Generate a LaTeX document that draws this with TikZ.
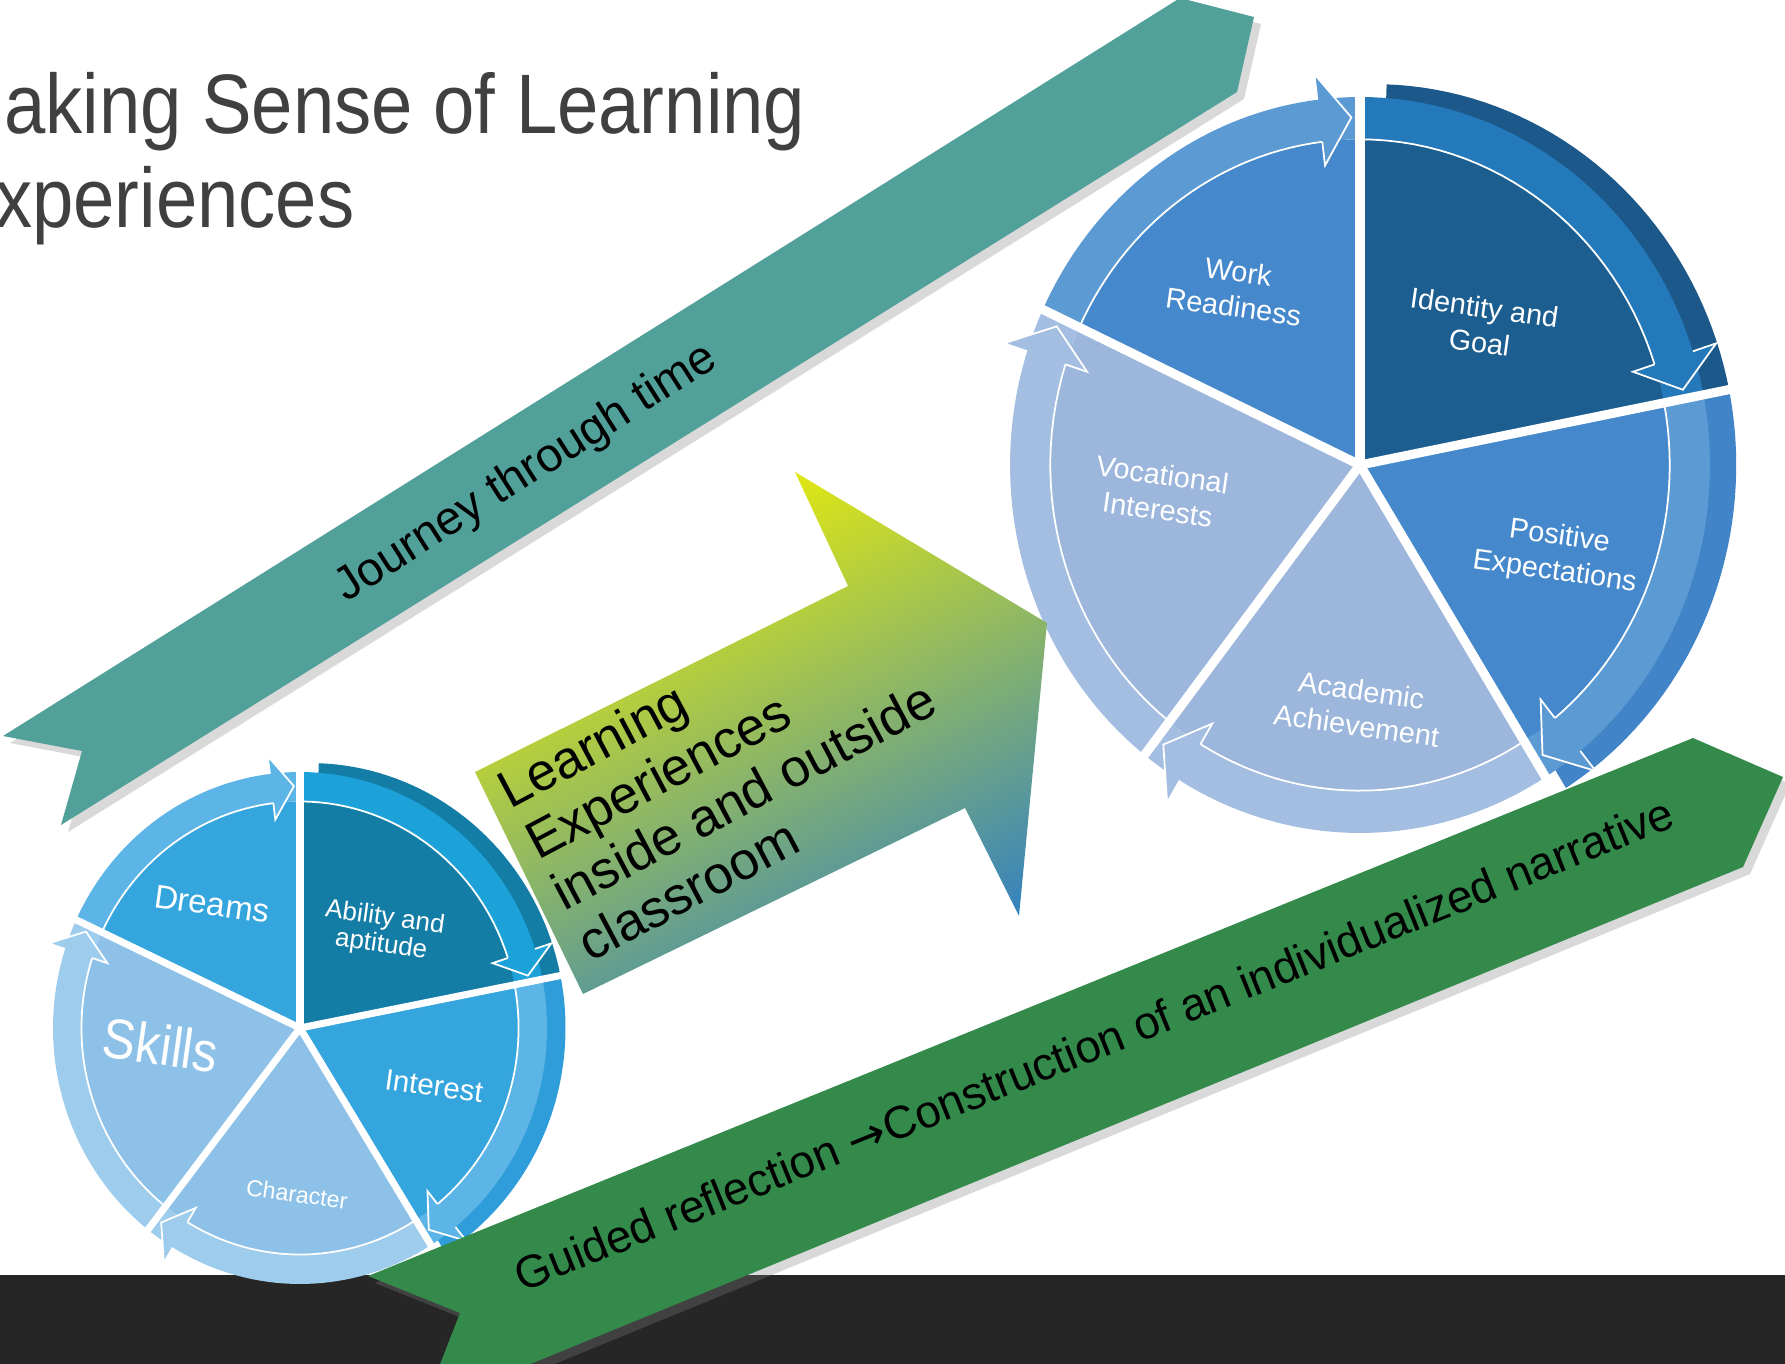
\documentclass[tikz,border=0pt]{standalone}
\usepackage{fontspec}
\setmainfont{Liberation Sans}
\newfontfamily\titlefont[FakeStretch=0.88]{Liberation Sans}
\newfontfamily\arrowfont{DejaVu Sans}
\usetikzlibrary{shadows}
\definecolor{titlegray}{HTML}{404040}
\definecolor{barcol}{HTML}{262626}
\definecolor{journeyteal}{HTML}{52A09A}
\definecolor{guidedgreen}{HTML}{338A4A}
\definecolor{lexyellow}{HTML}{F2F200}
\definecolor{lexgreen}{HTML}{A2CA54}
\definecolor{lexblue}{HTML}{3884BC}
% big pie
\definecolor{workin}{HTML}{4589CC}
\definecolor{workring}{HTML}{5C9AD4}
\definecolor{identin}{HTML}{1B5E8F}
\definecolor{identring}{HTML}{2479BA}
\definecolor{identdepth}{HTML}{1C5889}
\definecolor{posdepth}{HTML}{4284C8}
\definecolor{acadin}{HTML}{9CB6DC}
\definecolor{acadring}{HTML}{A3BEE0}
% small pie
\definecolor{dreamin}{HTML}{35A5DE}
\definecolor{dreamring}{HTML}{5CB5E6}
\definecolor{abilin}{HTML}{137DA5}
\definecolor{abilring}{HTML}{1CA2D8}
\definecolor{interdepth}{HTML}{2F9DD9}
\definecolor{skillin}{HTML}{8DC1E8}
\definecolor{skillring}{HTML}{9ECCEC}
\begin{document}
\begin{tikzpicture}[x=0.01cm,y=-0.01cm]
  \tikzstyle{slicetext}=[text=white,align=center,rotate=-8,inner sep=0pt]
  \tikzstyle{ribbontext}=[text=black,anchor=base,inner sep=0pt]
  \tikzset{ribbon/.style={drop shadow={opacity=0.3,shadow xshift=2pt,shadow yshift=-2pt}}}
  \useasboundingbox (0,0) rectangle (1785,1364);
  \clip (0,0) rectangle (1785,1364);
  \fill[barcol] (0,1275) rectangle (1785,1364);

  % title
  \node[anchor=base east,text=titlegray,inner sep=0pt,font=\titlefont\fontsize{24}{28}\selectfont] (title1) at (806,134) {Making Sense of Learning};
  \node[anchor=base east,text=titlegray,inner sep=0pt,font=\titlefont\fontsize{24}{28}\selectfont] (title2) at (355,228) {Experiences};

  % journey through time
  \fill[journeyteal,ribbon] (3,736) -- (1180,-2) -- (1254,17) -- (1237,92) -- (61,825) -- (82,751) -- cycle;
  \node[ribbontext,rotate=32.5,font=\fontsize{13.4}{15}\selectfont] (journey) at (533,484) {Journey through time};

  % small pie
  \begin{scope}[shift={(300,1028)},xscale=247,yscale=256]
    \fill[abilin,shift={(0.04,0)},scale=1.035] (0,0) -- plot[domain=-88:-11,samples=40] (\x:1) -- cycle;
    \fill[interdepth,shift={(0.04,0)},scale=1.035] (0,0) -- plot[domain=-11:58,samples=40] (\x:1) -- cycle;
    \foreach \a/\b/\cin/\cring in {-155/-90/dreamin/dreamring,-90/-11/abilin/abilring,-11/58/dreamin/dreamring,58/128/skillin/skillring,128/205/skillin/skillring}{
      \pgfmathsetmacro\arrowbase{\b-7}
      \pgfmathsetmacro\arrowtip{\b-1.5}
      \fill[\cin] (0,0) -- plot[domain=\a:\b,samples=40] (\x:0.885) -- cycle;
      \fill[\cring] plot[domain=\a:\b,samples=40] (\x:1) -- plot[domain=\b:\a,samples=40] (\x:0.885) -- cycle;
      \draw[white,line width=0.5pt] plot[domain=\a:\arrowbase,samples=30] (\x:0.885);
      \filldraw[fill=\cring,draw=white,line width=0.5pt] (\arrowbase:0.885) -- (\arrowbase:0.82) -- (\arrowtip:0.945) -- (\arrowbase:1.07) -- (\arrowbase:1);
    }
    \foreach \a in {-90,-11,58,128,205}
      \draw[white,line width=2pt] (0,0) -- (\a:1.12);
  \end{scope}
  \node[slicetext,font=\fontsize{9.4}{11}\selectfont] (dreams) at (212,904) {Dreams};
  \node[slicetext,font=\fontsize{7.4}{7.8}\selectfont] (ability) at (383,932) {Ability and\\aptitude};
  \node[slicetext,font=\titlefont\fontsize{16}{18}\selectfont] (skills) at (161,1045) {Skills};
  \node[slicetext,font=\fontsize{8.4}{10}\selectfont] (interest) at (434,1086) {Interest};
  \node[slicetext,font=\fontsize{6.6}{8}\selectfont] (character) at (297,1194) {Character};

  % big pie
  \begin{scope}[shift={(1360,465)},xscale=350,yscale=368]
    \fill[identdepth,shift={(0.04,0)},scale=1.035] (0,0) -- plot[domain=-88:-11,samples=40] (\x:1) -- cycle;
    \fill[posdepth,shift={(0.04,0)},scale=1.035] (0,0) -- plot[domain=-11:58,samples=40] (\x:1) -- cycle;
    \foreach \a/\b/\cin/\cring in {-155/-90/workin/workring,-90/-11/identin/identring,-11/58/workin/workring,58/128/acadin/acadring,128/205/acadin/acadring}{
      \pgfmathsetmacro\arrowbase{\b-7}
      \pgfmathsetmacro\arrowtip{\b-1.5}
      \fill[\cin] (0,0) -- plot[domain=\a:\b,samples=40] (\x:0.885) -- cycle;
      \fill[\cring] plot[domain=\a:\b,samples=40] (\x:1) -- plot[domain=\b:\a,samples=40] (\x:0.885) -- cycle;
      \draw[white,line width=0.5pt] plot[domain=\a:\arrowbase,samples=30] (\x:0.885);
      \filldraw[fill=\cring,draw=white,line width=0.5pt] (\arrowbase:0.885) -- (\arrowbase:0.82) -- (\arrowtip:0.945) -- (\arrowbase:1.07) -- (\arrowbase:1);
    }
    \foreach \a in {-90,-11,58,128,205}
      \draw[white,line width=2.6pt] (0,0) -- (\a:1.12);
  \end{scope}
  \node[slicetext,font=\fontsize{8.2}{10}\selectfont] (work) at (1236,289) {Work\\Readiness};
  \node[slicetext,font=\fontsize{8.2}{10}\selectfont] (identity) at (1482,325) {Identity and\\Goal};
  \node[slicetext,font=\fontsize{8.2}{10}\selectfont] (positive) at (1557,555) {Positive\\Expectations};
  \node[slicetext,font=\fontsize{8.2}{10}\selectfont] (academic) at (1359,708) {Academic\\Achievement};
  \node[slicetext,font=\fontsize{8.2}{10}\selectfont] (vocational) at (1160,492) {Vocational\\Interests};

  % learning experiences
  \shade[top color=lexyellow,middle color=lexgreen,bottom color=lexblue,shading angle=27] (475,772) -- (848,586) -- (795,472) -- (1047,623) -- (1019,916) -- (965,808) -- (583,994) -- cycle;
  \node[anchor=base west,rotate=28,inner sep=0pt,font=\fontsize{15}{17}\selectfont] (le1) at (510,810) {Learning};
  \node[anchor=base west,rotate=28,inner sep=0pt,font=\fontsize{15}{17}\selectfont] (le2) at (538,861) {Experiences};
  \node[anchor=base west,rotate=28,inner sep=0pt,font=\fontsize{15}{17}\selectfont] (le3) at (564,912) {inside and outside};
  \node[anchor=base west,rotate=28,inner sep=0pt,font=\fontsize{15}{17}\selectfont] (le4) at (590,963) {classroom};

  % guided reflection
  \fill[guidedgreen,ribbon] (368,1276) -- (1693,738) -- (1783,777) -- (1743,867) -- (423,1408) -- (460,1313) -- cycle;
  \node[ribbontext,rotate=22,font=\fontsize{13}{15}\selectfont] (guided) at (1100,1059) {Guided reflection {\arrowfont →}Construction of an individualized narrative};
\end{tikzpicture}
\end{document}
